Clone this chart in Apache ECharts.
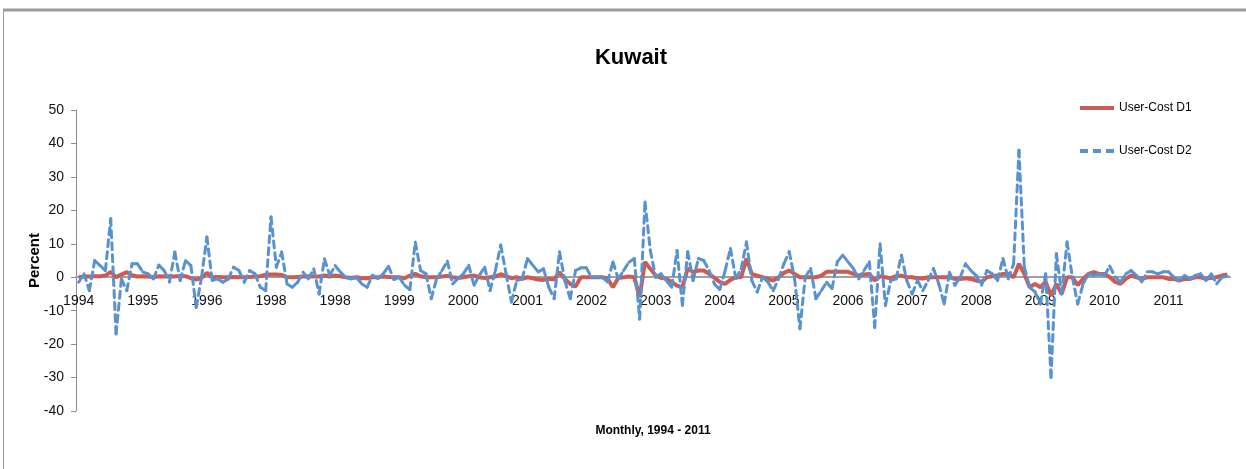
<!DOCTYPE html>
<html>
<head>
<meta charset="utf-8">
<script src="https://cdn.jsdelivr.net/npm/echarts@6/dist/echarts.min.js"></script>
<style>
  html, body { margin: 0; padding: 0; background: #fff; }
  #main { width: 1246px; height: 469px; }
</style>
</head>
<body>
<div id="main"></div>
<script>
// tick labels as printed under the axis (one per 12 months)
var yearLabels = ['1994','1995','1996','1998','1998','1999','2000','2001','2002',
                  '2003','2004','2005','2006','2007','2008','2009','2010','2011'];

// monthly values, one row per year
var userCostD1 = [
  0, 0.2, 0.2, 0.3, 0.3, 0.5, 1.6, 0, 0.8, 1.5, 0.6, 0.2,
  0.3, 0.2, 0, 0.3, 0.2, 0.3, 0.2, 0.4, 0.3, -0.3, -0.7, -0.2,
  1.3, 0, 0.1, 0, 0, 0.1, 0, 0, 0.1, 0.2, 0.3, 0.8,
  0.8, 0.8, 0.7, 0, 0, 0.1, 0.2, 0.3, 0.2, 0.2, 0.5, 0.2,
  0.5, 0.3, 0, -0.2, 0, -0.3, -0.3, 0, 0, 0.2, 0.1, 0,
  0, -0.3, 0.5, 1, 0.3, 0, 0, 0, 0.2, 0.4, 0, -0.2,
  0, 0.3, 0.5, 0, -0.2, 0, 0.2, 0.9, 0.3, -0.3, 0, -0.5,
  0, -0.3, -0.7, -0.8, -0.5, -0.6, 1.5, -0.5, -2, -2.8, 0, 0,
  0, 0, 0, -0.4, -3, -0.2, 0, 0.2, 0, -6, 4.6, 2.5,
  0.5, -0.2, -0.5, -1.5, -2.5, -3, 2.6, 1.5, 2, 2, 1, -0.2,
  -1.4, -2, -0.8, 0, 0, 5.6, 1, 0.5, 0, -0.5, -1, 0,
  1.3, 2, 1, 0, 0, 0, 0, 0.5, 1.6, 1.6, 1.6, 1.6,
  1.6, 1, 0.5, 0.8, 1, -1, 0.3, 0, -0.3, 0.3, 0.5, 0,
  0, -0.3, -0.4, 0, 0, 0, 0, 0, -0.5, -0.5, -0.3, -0.5,
  -1, -1.4, 0, 0.3, 0.5, 1, 1, 0, 4, 1, -3, -2,
  -3, -1.4, -5.5, -2, -5, 0, 0, -2.4, -0.5, 1, 1.5, 1,
  1, 0, -1.4, -2, -0.5, 0.5, 0, -0.5, 0, 0, 0, 0,
  -0.5, -0.5, -1, -0.5, -0.5, 0, 0, -0.5, -0.2, 0, 0.5, 0.8
];

var userCostD2 = [
  -1.5, 1, -4, 5, 3.5, 2, 17.5, -17, -0.5, -4, 4, 4,
  1.6, 1, -0.5, 3.6, 2, -1.4, 7.5, -1, 5, 3.5, -9, 0,
  12, -1, -0.5, -1.5, -0.5, 3, 2, -1.5, 2, 1, -3, -4,
  18, 3, 7.5, -2, -3, -1.5, 1.5, -0.5, 2.5, -5, 5.5, 0.5,
  3.5, 1.5, 0, -0.5, 0, -2, -3, 0.6, -0.4, 1, 3.3, -0.7,
  0, -2.4, -3.7, 10.5, 2, 1, -6.4, -0.4, 2, 4.8, -2, -0.4,
  1, 3.6, -2.4, 0.6, 3, -4, 2, 9.6, 1, -7.4, -1, -0.5,
  5.6, 3.6, 1.6, 2.5, -3, -6.4, 7.6, -1, -6.4, 2, 2.8, 2.8,
  0, 0, 0, -1.4, 4.6, -0.5, 2, 4.5, 5.6, -12.5, 22.5, 8,
  0, 1, -1, -3, 8, -8.4, 7.6, -1, 5.6, 5, 2, -2,
  -3.7, 2, 8.6, -0.4, 2.5, 10.5, -1, -4.4, 0, -1.4, -4, -0.5,
  4, 7.6, -0.4, -15.4, 0, 2.6, -6.4, -4, -1.5, -3.4, 4.6, 6.6,
  4.6, 2.6, -0.5, 2, 4.6, -15, 10, -8.4, -1, -0.5, 6.6, -1,
  -5, -1, -4, -1, 2.6, -2, -8, 1.5, -2.4, 0, 4, 2,
  0.5, -2.4, 2, 1, -1, 5.6, -0.5, 4, 38, 3, -3, -4.4,
  -8, 1, -30, 7, -5, 10.5, 0, -8, -2, 1, 0.5, 1,
  0.5, 3.3, 0, -1.4, 1, 2, 0.5, -1.4, 1.6, 1.6, 1, 1.6,
  1.6, 0, -1, 0.5, -0.5, 0.5, 1, -1, 1, -2, 0, 0.3
];

var redColor = '#CD5B55';
var blueColor = '#5893CF';
var font = '"Liberation Sans", Arial, sans-serif';

// one category per month
var months = [];
for (var y = 0; y < yearLabels.length; y++) {
  for (var m = 1; m <= 12; m++) {
    months.push(y + '-' + m);
  }
}

var myChart = echarts.init(document.getElementById('main'));

var option = {
  backgroundColor: '#fff',
  animation: false,
  title: [
    {
      text: 'Kuwait',
      left: 626,
      textAlign: 'center',
      top: 42,
      textStyle: { fontFamily: font, fontSize: 22, fontWeight: 'bold', color: '#000' }
    },
    {
      text: 'Monthly, 1994 - 2011',
      left: 648,
      textAlign: 'center',
      top: 420,
      textStyle: { fontFamily: font, fontSize: 12, fontWeight: 'bold', color: '#000' }
    }
  ],
  graphic: [
    { type: 'line', shape: { x1: 3, y1: 10, x2: 1246, y2: 10 }, style: { stroke: '#9a9a9a', lineWidth: 3 } },
    { type: 'line', shape: { x1: 3.5, y1: 10, x2: 3.5, y2: 469 }, style: { stroke: '#9a9a9a', lineWidth: 1 } }
  ],
  legend: {
    orient: 'vertical',
    left: 1075,
    top: 97,
    itemWidth: 34,
    itemHeight: 5,
    itemGap: 31,
    textStyle: { fontFamily: font, fontSize: 12, color: '#000' },
    data: [
      { name: 'User-Cost D1', icon: 'path://M0,0h34v4h-34z' },
      { name: 'User-Cost D2', icon: 'path://M0,0h8v4h-8z M13,0h8v4h-8z M26,0h8v4h-8z' }
    ]
  },
  grid: { left: 76, right: 16, top: 110, bottom: 58 },
  xAxis: {
    type: 'category',
    data: months,
    boundaryGap: true,
    axisLine: { onZero: true, lineStyle: { color: '#a0a0a0', width: 2 } },
    axisTick: { show: false },
    axisLabel: {
      interval: 11,
      margin: -117,
      fontFamily: font,
      fontSize: 14,
      color: '#111',
      formatter: function (v, i) { return yearLabels[Math.floor(i / 12)]; }
    },
    splitLine: { show: false }
  },
  yAxis: {
    type: 'value',
    min: -40,
    max: 50,
    interval: 10,
    name: 'Percent',
    nameLocation: 'middle',
    nameGap: 34,
    nameMoveOverlap: false,
    nameTextStyle: { fontFamily: font, fontSize: 15, fontWeight: 'bold', color: '#000' },
    axisLine: { show: true, lineStyle: { color: '#8c8c8c', width: 1 } },
    axisTick: { show: true, length: 5, lineStyle: { color: '#8c8c8c' } },
    axisLabel: { margin: 12, fontFamily: font, fontSize: 14, color: '#111' },
    splitLine: { show: false }
  },
  series: [
    {
      name: 'User-Cost D1',
      type: 'line',
      data: userCostD1,
      symbol: 'none',
      color: redColor,
      lineStyle: { color: redColor, width: 4 },
      z: 2
    },
    {
      name: 'User-Cost D2',
      type: 'custom',
      color: blueColor,
      data: userCostD2.map(function (v, i) { return [i, v]; }),
      encode: { x: 0, y: 1 },
      z: 3,
      renderItem: function (params, api) {
        var i = params.dataIndex;
        if (i === 0) return null;
        var p0 = api.coord([i - 1, userCostD2[i - 1]]);
        var p1 = api.coord([i, api.value(1)]);
        // each month-to-month segment restarts its own dash pattern
        return {
          type: 'line',
          shape: { x1: p0[0], y1: p0[1], x2: p1[0], y2: p1[1] },
          style: { stroke: blueColor, lineWidth: 3, lineDash: [7, 5], lineCap: 'round', fill: null }
        };
      }
    }
  ]
};

myChart.setOption(option);
</script>
</body>
</html>
